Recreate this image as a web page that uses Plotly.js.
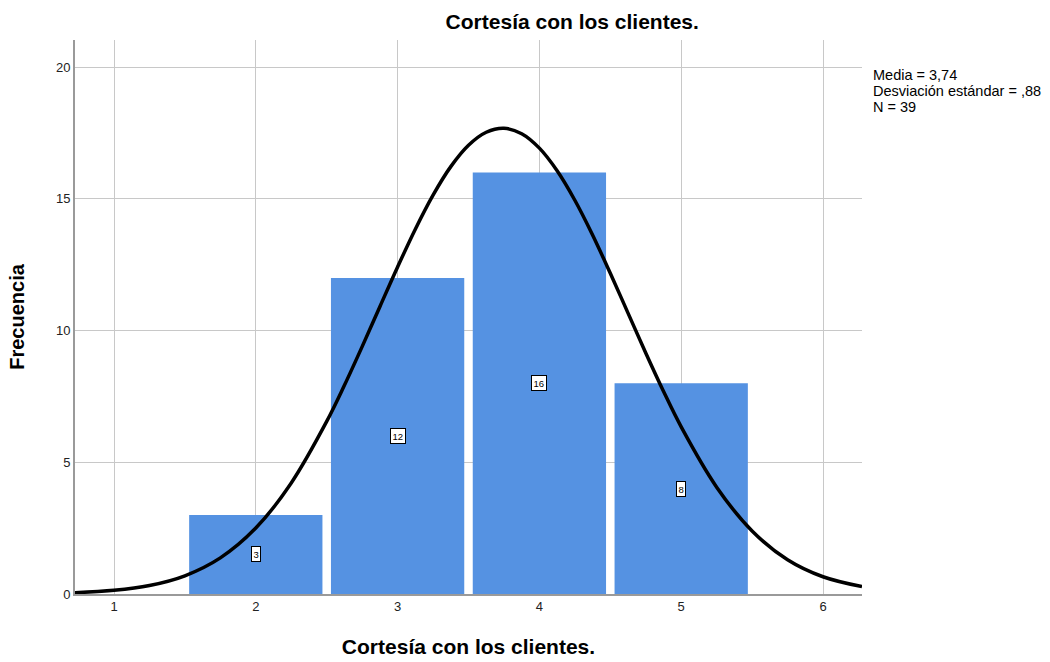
<!DOCTYPE html>
<html><head><meta charset="utf-8">
<script src="https://cdn.plot.ly/plotly-3.0.1.min.js"></script>
<style>html,body{margin:0;padding:0;background:#fff}#chart{width:1050px;height:662px}</style>
</head><body><div id="chart"></div>
<script>
const categories = [2, 3, 4, 5];
const frequencies = [3, 12, 16, 8];
const curveX = [0.725, 1.0, 1.25, 1.5, 1.75, 2.0, 2.25, 2.5, 2.625, 2.75, 2.875, 3.0, 3.125, 3.25, 3.375, 3.5, 3.625, 3.75, 3.875, 4.0, 4.125, 4.25, 4.375, 4.5, 4.625, 4.75, 4.875, 5.0, 5.25, 5.5, 5.75, 6.0, 6.275];
const curveY = [0.05, 0.139, 0.323, 0.692, 1.371, 2.503, 4.217, 6.552, 7.922, 9.39, 10.907, 12.415, 13.849, 15.141, 16.223, 17.035, 17.529, 17.68, 17.473, 16.925, 16.066, 14.947, 13.628, 12.176, 10.663, 9.151, 7.696, 6.344, 4.057, 2.393, 1.301, 0.654, 0.28];
const statsLines = ["Media = 3,74", "Desviación estándar = ,88", "N = 39"];
const xTicks = [1, 2, 3, 4, 5, 6];
const yTicks = [0, 5, 10, 15, 20];

const font = "Liberation Sans, Arial, sans-serif";
const traces = [
  {type: 'bar', x: categories, y: frequencies, width: 0.94,
   marker: {color: '#5592E2', line: {width: 0}}, hoverinfo: 'none'},
  {type: 'scatter', mode: 'lines', x: curveX, y: curveY,
   line: {color: '#000', width: 3.5, shape: 'spline', smoothing: 1}, hoverinfo: 'none'}
];
const annotations = categories.map((c, i) => ({
  x: c, y: frequencies[i] / 2, xref: 'x', yref: 'y', text: String(frequencies[i]),
  showarrow: false, font: {family: font, size: 9.5, color: '#000'},
  bgcolor: '#fff', bordercolor: '#000', borderwidth: 1, borderpad: 1.5
}));
const statsY = [0.9368, 0.9079, 0.879];
statsLines.forEach((s, i) => annotations.push({
  xref: 'paper', yref: 'paper', x: 1.0115, y: statsY[i], xanchor: 'left', yanchor: 'middle',
  align: 'left', showarrow: false, text: s,
  font: {family: font, size: 14.5, color: '#000'}
}));
const layout = {
  width: 1050, height: 662,
  margin: {l: 75, r: 188, t: 40, b: 68},
  paper_bgcolor: '#fff', plot_bgcolor: '#fff',
  showlegend: false,
  title: {text: 'Cortesía con los clientes.', font: {family: font, size: 21, color: '#000', weight: 'bold'},
          x: 0.545, xanchor: 'center', y: 0.968, yanchor: 'middle'},
  xaxis: {range: [0.725, 6.275], tickvals: xTicks, ticktext: xTicks.map(String),
          showgrid: true, gridcolor: '#c8c8c8', gridwidth: 1, zeroline: false,
          showline: true, linecolor: '#9a9a9a', linewidth: 1.5, ticks: '',
          tickfont: {family: font, size: 13, color: '#222'},
          title: {text: 'Cortesía con los clientes.', font: {family: font, size: 21, color: '#000', weight: 'bold'}, standoff: 26}},
  yaxis: {range: [0, 21.03], tickvals: yTicks, ticktext: yTicks.map(String),
          showgrid: true, gridcolor: '#c8c8c8', gridwidth: 1, zeroline: false,
          showline: true, linecolor: '#9a9a9a', linewidth: 2, ticks: '',
          tickfont: {family: font, size: 13, color: '#222'},
          title: {text: 'Frecuencia', font: {family: font, size: 20, color: '#000', weight: 'bold'}, standoff: 26}},
  annotations: annotations
};
Plotly.newPlot('chart', traces, layout, {displayModeBar: false, staticPlot: true});
</script>
</body></html>
